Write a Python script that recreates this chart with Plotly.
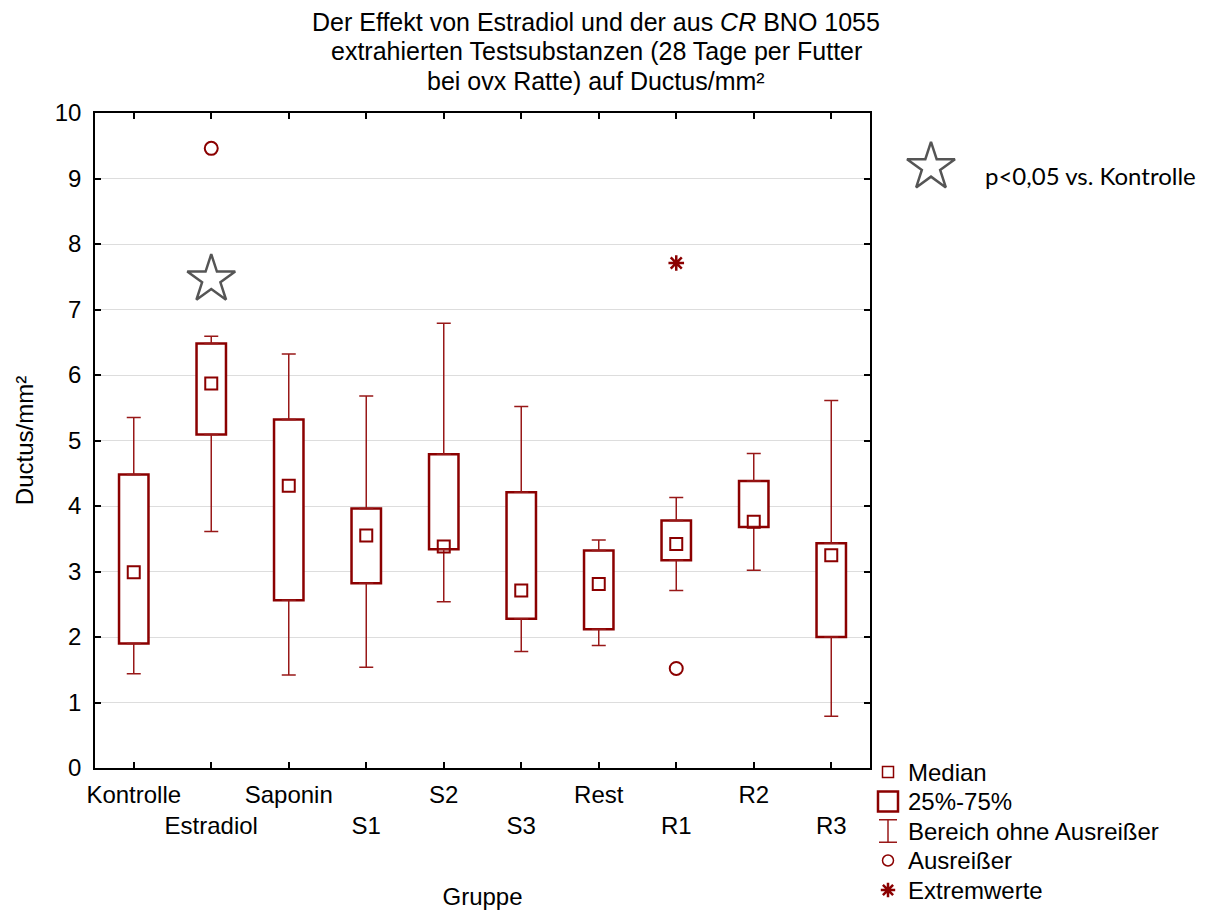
import plotly.graph_objects as go

# ---- data ----
groups = ["Kontrolle", "Estradiol", "Saponin", "S1", "S2", "S3", "Rest", "R1", "R2", "R3"]
whisker_low = [1.44, 3.61, 1.42, 1.54, 2.54, 1.78, 1.87, 2.71, 3.02, 0.79]
q1 = [1.90, 5.09, 2.56, 2.82, 3.34, 2.28, 2.12, 3.17, 3.68, 2.00]
median = [2.99, 5.87, 4.31, 3.55, 3.38, 2.71, 2.81, 3.42, 3.76, 3.25]
q3 = [4.48, 6.48, 5.32, 3.96, 4.79, 4.21, 3.32, 3.78, 4.38, 3.43]
whisker_high = [5.35, 6.59, 6.32, 5.68, 6.79, 5.52, 3.48, 4.13, 4.80, 5.61]
outlier_groups = ["Estradiol", "R1"]
outlier_values = [9.46, 1.52]
extreme_groups = ["R1"]
extreme_values = [7.71]
signif_groups = ["Estradiol"]
signif_y = [7.46]
y_ticks = [0, 1, 2, 3, 4, 5, 6, 7, 8, 9, 10]
title_lines = ["Der Effekt von Estradiol und der aus <i>CR</i> BNO 1055",
               "extrahierten Testsubstanzen (28 Tage per Futter",
               "bei ovx Ratte) auf Ductus/mm²"]
legend_labels = ["Median", "25%-75%", "Bereich ohne Ausreißer", "Ausreißer", "Extremwerte"]
signif_label = "p<0,05 vs. Kontrolle"

RED = "#8B0000"
WHISK = "#981818"
GRAY = "#555555"
FONT = "Liberation Sans, Arial, sans-serif"
FS = 24

xpos = list(range(len(groups)))
gidx = {g: i for i, g in enumerate(groups)}
ticktext = [g if i % 2 == 0 else "<br>" + g for i, g in enumerate(groups)]

# layout geometry (pixels)
W, H = 1211, 910
ML, MR, MT, MB = 95, 5, 5, 5
PW = W - ML - MR
PH = H - MT - MB
PLOT_L, PLOT_R, PLOT_T, PLOT_B = 95, 870, 113, 768


def px(xp):
    return (xp - ML) / PW


def py(yp):
    return (H - MB - yp) / PH


fig = go.Figure()

# boxes (25%-75%)
fig.add_trace(go.Bar(
    x=xpos, y=[b - a for a, b in zip(q1, q3)], base=q1, width=0.38,
    marker=dict(color="white", line=dict(color=RED, width=2.5)),
    name="25%-75%", showlegend=False, hoverinfo="skip"))

# upper whiskers
fig.add_trace(go.Scatter(
    x=xpos, y=q3, mode="markers", marker=dict(size=0.1, color="rgba(0,0,0,0)"),
    error_y=dict(type="data", symmetric=False,
                 array=[h - t for h, t in zip(whisker_high, q3)],
                 arrayminus=[0] * len(q3), color=WHISK, thickness=1.5, width=7),
    showlegend=False, hoverinfo="skip"))
# lower whiskers
fig.add_trace(go.Scatter(
    x=xpos, y=q1, mode="markers", marker=dict(size=0.1, color="rgba(0,0,0,0)"),
    error_y=dict(type="data", symmetric=False,
                 array=[0] * len(q1),
                 arrayminus=[b - l for b, l in zip(q1, whisker_low)], color=WHISK, thickness=1.5, width=7),
    showlegend=False, hoverinfo="skip"))

# median squares
fig.add_trace(go.Scatter(
    x=xpos, y=median, mode="markers",
    marker=dict(symbol="square-open", size=12, color=RED, line=dict(width=2)),
    name="Median", showlegend=False))

# outliers
fig.add_trace(go.Scatter(
    x=[gidx[g] for g in outlier_groups], y=outlier_values, mode="markers",
    marker=dict(symbol="circle-open", size=13, color=RED, line=dict(width=2)),
    name="Ausreißer", showlegend=False))
# extremes
fig.add_trace(go.Scatter(
    x=[gidx[g] for g in extreme_groups], y=extreme_values, mode="markers",
    marker=dict(symbol="asterisk-open", size=13, color=RED, line=dict(width=2.5, color=RED)),
    name="Extremwerte", showlegend=False))

# significance star
fig.add_trace(go.Scatter(
    x=[gidx[g] for g in signif_groups], y=signif_y, mode="markers", cliponaxis=False,
    marker=dict(symbol="star-open", size=36, color=GRAY, line=dict(width=2.5, color=GRAY)),
    showlegend=False, hoverinfo="skip"))

# ---- key for the star (own invisible axes) ----
fig.add_trace(go.Scatter(
    x=[0], y=[0], mode="markers", xaxis="x2", yaxis="y2", cliponaxis=False,
    marker=dict(symbol="star-open", size=36, color=GRAY, line=dict(width=2.5, color=GRAY)),
    showlegend=False, hoverinfo="skip"))

# ---- legend key symbols (own invisible axes, one row per entry) ----
rows = list(range(len(legend_labels)))
sym_kw = dict(mode="markers", xaxis="x3", yaxis="y3", cliponaxis=False, showlegend=False, hoverinfo="skip")
fig.add_trace(go.Scatter(x=[0], y=[rows[0]],
                         marker=dict(symbol="square-open", size=11, color=RED, line=dict(width=1.5)), **sym_kw))
fig.add_trace(go.Scatter(x=[0], y=[rows[1]],
                         marker=dict(symbol="square-open", size=20, color=RED, line=dict(width=2.5)), **sym_kw))
fig.add_trace(go.Scatter(x=[0], y=[rows[2]], marker=dict(size=0.1, color="rgba(0,0,0,0)"),
                         error_y=dict(type="constant", value=0.38, color=WHISK, thickness=1.5, width=9),
                         **sym_kw))
fig.add_trace(go.Scatter(x=[0], y=[rows[3]],
                         marker=dict(symbol="circle-open", size=11, color=RED, line=dict(width=1.5)), **sym_kw))
fig.add_trace(go.Scatter(x=[0], y=[rows[4]],
                         marker=dict(symbol="asterisk-open", size=12, color=RED, line=dict(width=2.5, color=RED)),
                         **sym_kw))

axis_common = dict(showline=True, linecolor="black", linewidth=1.5, mirror="ticks",
                   ticks="inside", ticklen=6, tickwidth=1.5, tickcolor="black",
                   tickfont=dict(family=FONT, size=FS), automargin=False, zeroline=False)

ROW0, ROWSTEP = 772, 29.5
annotations = []
for i, t in enumerate(title_lines):
    annotations.append(dict(text=t, xref="paper", yref="paper", x=px(596), y=py(22 + 29.5 * i),
                            xanchor="center", yanchor="middle", showarrow=False,
                            font=dict(family=FONT, size=25, color="black")))
for i, t in enumerate(legend_labels):
    annotations.append(dict(text=t, xref="paper", yref="paper", x=px(906), y=py(ROW0 + ROWSTEP * i),
                            xanchor="left", yanchor="middle", showarrow=False,
                            font=dict(family=FONT, size=FS, color="black")))
annotations.append(dict(text=signif_label, xref="paper", yref="paper", x=px(983), y=py(176),
                        xanchor="left", yanchor="middle", showarrow=False,
                        font=dict(family="Lato, Open Sans, sans-serif", size=24, color="black")))

fig.update_layout(
    width=W, height=H,
    margin=dict(l=ML, r=MR, t=MT, b=MB, autoexpand=False),
    paper_bgcolor="white", plot_bgcolor="white",
    font=dict(family=FONT, size=FS, color="black"),
    xaxis=dict(
        domain=[px(PLOT_L), px(PLOT_R)],
        range=[-0.5, len(groups) - 0.5], tickmode="array", tickvals=xpos, ticktext=ticktext,
        tickangle=0, showgrid=False, ticklabelstandoff=4,
        title=dict(text="Gruppe", font=dict(family=FONT, size=FS), standoff=52),
        **axis_common),
    yaxis=dict(
        domain=[py(PLOT_B), py(PLOT_T)],
        range=[0, 10], tickmode="array", tickvals=y_ticks,
        showgrid=True, gridcolor="#DDDDDD", gridwidth=1, ticklabelstandoff=7,
        title=dict(text="Ductus/mm²", font=dict(family=FONT, size=FS), standoff=14),
        **axis_common),
    xaxis2=dict(domain=[px(900), px(962)], range=[-1, 1], visible=False, anchor="y2"),
    yaxis2=dict(domain=[py(198), py(136)], range=[-1, 1], visible=False, anchor="x2"),
    xaxis3=dict(domain=[px(878), px(898)], range=[-1, 1], visible=False, anchor="y3"),
    yaxis3=dict(domain=[py(ROW0 + ROWSTEP * 4.5), py(ROW0 - ROWSTEP * 0.5)],
                range=[len(rows) - 0.5, -0.5], visible=False, anchor="x3"),
    annotations=annotations,
    showlegend=False,
)

fig.write_html("out.html", config={"displayModeBar": False},
               post_script="document.body.style.margin='0px';")
